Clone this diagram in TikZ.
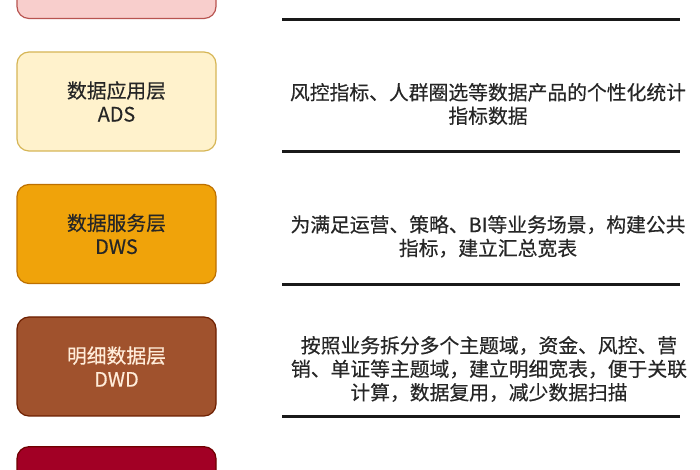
\documentclass[tikz,border=0pt]{standalone}
\usepackage{fontspec}
\usepackage{tikz}
\usetikzlibrary{positioning}
\newfontfamily\cjk[FakeBold=0.4]{Noto Sans CJK SC}
\newcommand{\letra}{\cjk\fontsize{19.8}{23.5}\selectfont}
\definecolor{rosa}{HTML}{F8CECC}
\definecolor{rosaborde}{HTML}{B85450}
\definecolor{crema}{HTML}{FFF2CC}
\definecolor{cremaborde}{HTML}{D6B656}
\definecolor{naranja}{HTML}{F0A30A}
\definecolor{naranjaborde}{HTML}{BD7000}
\definecolor{siena}{HTML}{A0522D}
\definecolor{sienaborde}{HTML}{6D1F00}
\definecolor{granate}{HTML}{A20025}
\definecolor{granateborde}{HTML}{6F0000}
\definecolor{gris}{HTML}{262626}
\tikzstyle{capa} = [draw, rectangle, rounded corners=12pt, line width=1.2pt, minimum width=199pt, minimum height=99pt, align=center, font=\letra, text=gris]
\tikzstyle{nota} = [align=center, font=\letra, text=gris, inner sep=0pt, yshift=-2.5pt]
\tikzstyle{regla} = [line width=3pt, draw=black!90]

\begin{document}
\begin{tikzpicture}[x=1pt, y=1pt]
	\useasboundingbox[fill=white] (0,0) rectangle (700,470);
	% capas
	\node[capa, fill=rosa, draw=rosaborde](ods) at (116.5,501) {};
	\node[capa, fill=crema, draw=cremaborde, below=32.3pt of ods](ads) {数据应用层\\ADS};
	\node[capa, fill=naranja, draw=naranjaborde, below=32.3pt of ads](dws) {数据服务层\\DWS};
	\node[capa, fill=siena, draw=sienaborde, text=orange!15, below=32.3pt of dws](dwd) {明细数据层\\DWD};
	\node[capa, fill=granate, draw=granateborde, below=29.5pt of dwd](dim) {};
	% descripciones
	\node[nota](adsnota) at (488,0 |- ads) {风控指标、人群圈选等数据产品的个性化统计\\指标数据};
	\node[nota](dwsnota) at (488,0 |- dws) {为满足运营、策略、BI等业务场景，构建公共\\指标，建立汇总宽表};
	\node[nota](dwdnota) at (489,0 |- dwd) {按照业务拆分多个主题域，资金、风控、营\\销、单证等主题域，建立明细宽表，便于关联\\计算，数据复用，减少数据扫描};
	% reglas
	\coordinate (odsizq) at (282,0 |- ods.south);
	\coordinate (odsder) at (680,0 |- ods.south);
	\coordinate (adsizq) at (282,0 |- ads.south);
	\coordinate (adsder) at (680,0 |- ads.south);
	\coordinate (dwsizq) at (282,0 |- dws.south);
	\coordinate (dwsder) at (680,0 |- dws.south);
	\coordinate (dwdizq) at (282,0 |- dwd.south);
	\coordinate (dwdder) at (680,0 |- dwd.south);
	\draw[regla] (odsizq) -- (odsder);
	\draw[regla] (adsizq) -- (adsder);
	\draw[regla] (dwsizq) -- (dwsder);
	\draw[regla] (dwdizq) -- (dwdder);
\end{tikzpicture}
\end{document}
